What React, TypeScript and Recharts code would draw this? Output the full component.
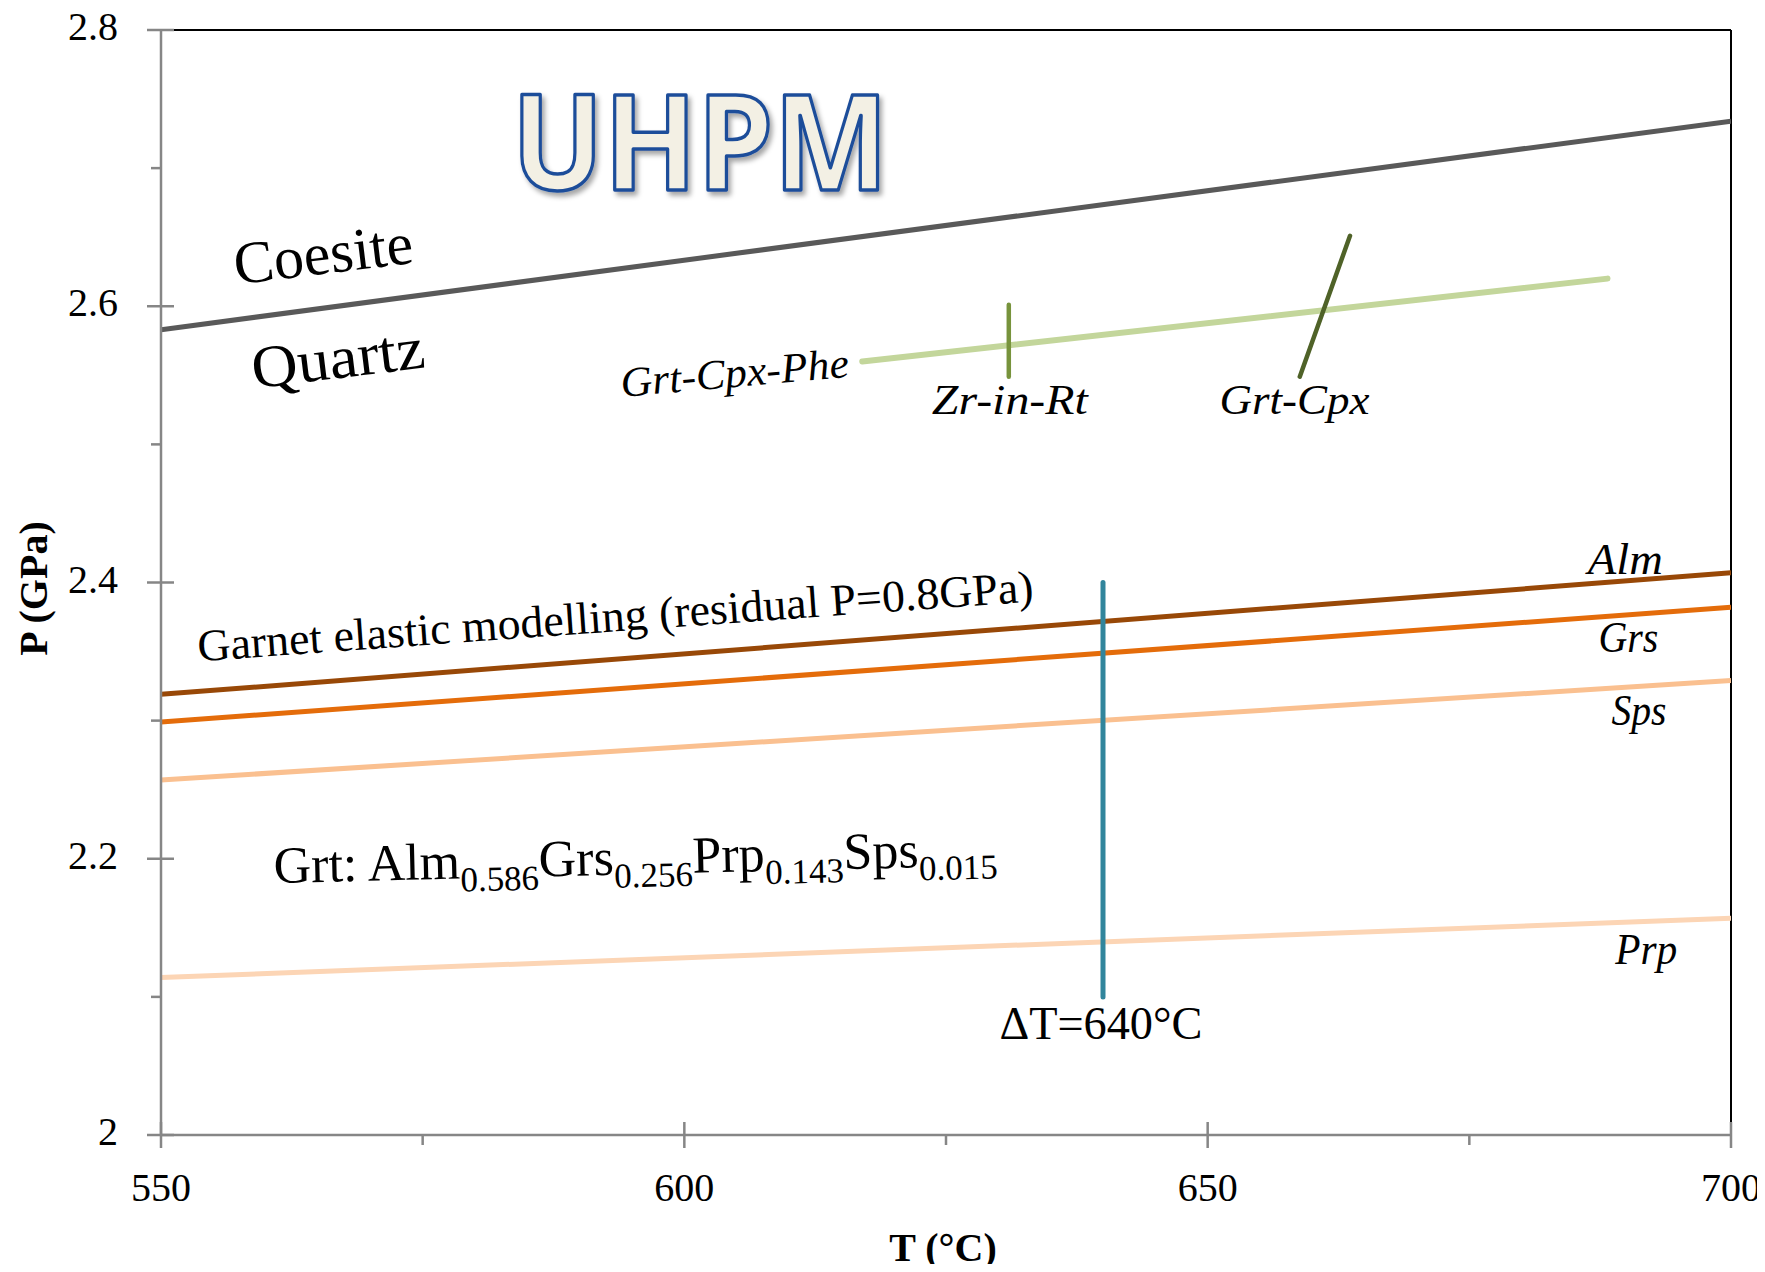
import React from 'react';
import { LineChart, Line, XAxis, YAxis, ReferenceLine, ReferenceDot } from 'recharts';

// ---- data (T in °C, P in GPa) ----
const coesiteQuartz = [{ t: 550, p: 2.583 }, { t: 700, p: 2.734 }];
const grtCpxPhe = [{ t: 617, p: 2.56 }, { t: 688.2, p: 2.62 }];
const zrInRt = [{ t: 631, p: 2.549 }, { t: 631, p: 2.601 }];
const grtCpx = [{ t: 658.8, p: 2.549 }, { t: 663.6, p: 2.651 }];
const alm = [{ t: 550, p: 2.319 }, { t: 700, p: 2.407 }];
const grs = [{ t: 550, p: 2.299 }, { t: 700, p: 2.382 }];
const sps = [{ t: 550, p: 2.257 }, { t: 700, p: 2.329 }];
const prp = [{ t: 550, p: 2.114 }, { t: 700, p: 2.157 }];
const deltaT = [{ t: 640, p: 2.1 }, { t: 640, p: 2.4 }];

const xTicks = [550, 575, 600, 625, 650, 675, 700];
const xMajorTicks = [550, 600, 650, 700];
const yTicks = [2, 2.1, 2.2, 2.3, 2.4, 2.5, 2.6, 2.7, 2.8];
const yMajorLabels: Record<string, string> = { '2': '2', '2.2': '2.2', '2.4': '2.4', '2.6': '2.6', '2.8': '2.8' };

const annotations = [
  { id: 'uhpm', text: 'UHPM', t: 601.5, p: 2.7211 },
  { id: 'coesite', text: 'Coesite', t: 565.5, p: 2.638 },
  { id: 'quartz', text: 'Quartz', t: 566.9, p: 2.5625 },
  { id: 'grtCpxPhe', text: 'Grt-Cpx-Phe', t: 604.8, p: 2.5517 },
  { id: 'zrInRt', text: 'Zr-in-Rt', t: 631.1, p: 2.532 },
  { id: 'grtCpx', text: 'Grt-Cpx', t: 658.3, p: 2.532 },
  { id: 'garnet', text: 'Garnet elastic modelling (residual P=0.8GPa)', t: 593.4, p: 2.3755 },
  { id: 'alm', text: 'Alm', t: 689.9, p: 2.4163 },
  { id: 'grs', text: 'Grs', t: 690.2, p: 2.3605 },
  { id: 'sps', text: 'Sps', t: 691.2, p: 2.307 },
  { id: 'prp', text: 'Prp', t: 691.9, p: 2.1345 },
  { id: 'deltaT', text: '\u0394T=640\u00b0C', t: 639.8, p: 2.081 },
];

const grtFormulaAnchor = { t: 560.8, p: 2.1824 };
const grtFormulaParts: [string, boolean][] = [
  ['Grt: Alm', false], ['0.586', true], ['Grs', false], ['0.256', true],
  ['Prp', false], ['0.143', true], ['Sps', false], ['0.015', true],
];

// ---- styles ----
const SERIF = "'Liberation Serif', 'Times New Roman', serif";
const AXIS_GRAY = '#868686';

type AStyle = { size: number; italic?: boolean; rotate?: number; len?: number; };
const annotationStyles: Record<string, AStyle> = {
  coesite: { size: 60, rotate: -7, len: 180 },
  quartz: { size: 60, rotate: -7, len: 174 },
  grtCpxPhe: { size: 42, italic: true, rotate: -5, len: 229 },
  zrInRt: { size: 42, italic: true, len: 156 },
  grtCpx: { size: 42, italic: true, len: 150 },
  garnet: { size: 45, rotate: -4.1, len: 838 },
  alm: { size: 44, italic: true, len: 75 },
  grs: { size: 44, italic: true, len: 60 },
  sps: { size: 44, italic: true, len: 55 },
  prp: { size: 44, italic: true, len: 62 },
  deltaT: { size: 46, len: 203 },
};

const getXY = (props: any) => {
  const vb = props.viewBox || {};
  const x = vb.x !== undefined ? vb.x + (vb.width || 0) / 2 : props.x;
  const y = vb.y !== undefined ? vb.y + (vb.height || 0) / 2 : props.y;
  return { x, y };
};

const makeAnnotation = (a: { id: string; text: string }) => (props: any) => {
  const { x, y } = getXY(props);
  if (a.id === 'uhpm') {
    return (
      <g>
        <defs>
          <filter id="uhpmShadow" x="-10%" y="-20%" width="130%" height="150%">
            <feDropShadow dx="3" dy="4" stdDeviation="2.5" floodColor="#000" floodOpacity="0.35" />
          </filter>
        </defs>
        <text
          x={x}
          y={y}
          textAnchor="middle"
          dominantBaseline="central"
          fontFamily="'Open Sans', 'Noto Sans', sans-serif"
          fontWeight={700}
          fontSize={132}
          textLength={377}
          lengthAdjust="spacingAndGlyphs"
          fill="#F3F0E4"
          stroke="#1F4E9A"
          strokeWidth={3.5}
          strokeLinejoin="round"
          filter="url(#uhpmShadow)"
        >
          {a.text}
        </text>
      </g>
    );
  }
  const s = annotationStyles[a.id];
  return (
    <text
      x={x}
      y={y}
      textAnchor="middle"
      dominantBaseline="central"
      fontFamily={SERIF}
      fontStyle={s.italic ? 'italic' : 'normal'}
      fontSize={s.size}
      fill="#000"
      textLength={s.len}
      lengthAdjust="spacingAndGlyphs"
      transform={s.rotate ? `rotate(${s.rotate} ${x} ${y})` : undefined}
    >
      {a.text}
    </text>
  );
};

const formulaLabel = (props: any) => {
  const { x, y } = getXY(props);
  const shift = 13;
  let prevSub = false;
  return (
    <text
      x={x}
      y={y}
      textAnchor="start"
      fontFamily={SERIF}
      fill="#000"
      transform={`rotate(-1.4 ${x} ${y})`}
    >
      {grtFormulaParts.map(([txt, sub], i) => {
        let dy = 0;
        if (sub && !prevSub) dy = shift;
        if (!sub && prevSub) dy = -shift;
        prevSub = sub;
        return (
          <tspan key={i} dy={dy} fontSize={sub ? 35 : 52}>
            {txt}
          </tspan>
        );
      })}
    </text>
  );
};

const YTick = (props: any) => {
  const { x, y, payload } = props;
  const v = payload.value;
  const key = String(Math.round(v * 10) / 10);
  const major = key in yMajorLabels;
  return (
    <g>
      <line
        x1={major ? x - 14 : x - 10}
        x2={major ? x + 13 : x}
        y1={y}
        y2={y}
        stroke={AXIS_GRAY}
        strokeWidth={2.5}
      />
      {major && (
        <text x={x - 43} y={y + 10} textAnchor="end" fontFamily={SERIF} fontSize={40} fill="#000">
          {yMajorLabels[key]}
        </text>
      )}
    </g>
  );
};

const XTick = (props: any) => {
  const { x, y, payload } = props;
  const v = payload.value;
  const major = xMajorTicks.includes(v);
  return (
    <g>
      <line
        x1={x}
        x2={x}
        y1={major ? y - 13 : y}
        y2={major ? y + 13 : y + 10}
        stroke={AXIS_GRAY}
        strokeWidth={2.5}
      />
      {major && (
        <text x={x} y={y + 66} textAnchor="middle" fontFamily={SERIF} fontSize={40} fill="#000">
          {v}
        </text>
      )}
    </g>
  );
};

const XTitle = (props: any) => {
  const vb = props.viewBox || {};
  const cx = vb.x + vb.width / 2 - 3;
  const by = vb.y + 126;
  return (
    <text x={cx} y={by} textAnchor="middle" fontFamily={SERIF} fontWeight={700} fontSize={40} fill="#000">
      T (°C)
    </text>
  );
};

const YTitle = (props: any) => {
  const vb = props.viewBox || {};
  const plotLeft = vb.x + vb.width;
  const x = plotLeft - 128;
  const y = vb.y + vb.height / 2 + 6;
  return (
    <text
      x={x}
      y={y}
      textAnchor="middle"
      dominantBaseline="central"
      fontFamily={SERIF}
      fontWeight={700}
      fontSize={40}
      fill="#000"
      transform={`rotate(-90 ${x} ${y})`}
    >
      P (GPa)
    </text>
  );
};

const series = [
  { key: 'coesite', data: coesiteQuartz, color: '#595959', width: 5, cap: 'butt' },
  { key: 'grtCpxPhe', data: grtCpxPhe, color: '#C3D69B', width: 6, cap: 'round' },
  { key: 'zrInRt', data: zrInRt, color: '#77933C', width: 4.5, cap: 'round' },
  { key: 'grtCpx', data: grtCpx, color: '#4F6228', width: 4.5, cap: 'round' },
  { key: 'alm', data: alm, color: '#984807', width: 5, cap: 'butt' },
  { key: 'grs', data: grs, color: '#E46C0A', width: 5, cap: 'butt' },
  { key: 'sps', data: sps, color: '#FAC090', width: 5, cap: 'butt' },
  { key: 'prp', data: prp, color: '#FCD5B5', width: 5, cap: 'butt' },
  { key: 'deltaT', data: deltaT, color: '#31859C', width: 5, cap: 'round' },
];

export default function App() {
  return (
    <div style={{ width: 1765, height: 1272, margin: -8 }}>
      <LineChart width={1765} height={1272} margin={{ top: 30, right: 34, bottom: 77, left: 61 }}>
        <XAxis
          type="number"
          dataKey="t"
          domain={[550, 700]}
          ticks={xTicks}
          interval={0}
          allowDataOverflow
          height={60}
          tickSize={0}
          tickMargin={0}
          tickLine={false}
          axisLine={{ stroke: AXIS_GRAY, strokeWidth: 2.5 }}
          tick={<XTick />}
          label={{ content: XTitle }}
        />
        <YAxis
          type="number"
          domain={[2, 2.8]}
          ticks={yTicks}
          interval={0}
          allowDataOverflow
          width={100}
          tickSize={0}
          tickMargin={0}
          tickLine={false}
          axisLine={{ stroke: AXIS_GRAY, strokeWidth: 2.5 }}
          tick={<YTick />}
          label={{ content: YTitle }}
        />
        <ReferenceLine y={2.8} stroke="#000" strokeWidth={2} />
        <ReferenceLine x={700} stroke="#000" strokeWidth={2} />
        {series.map((s) => (
          <Line
            key={s.key}
            data={s.data}
            dataKey="p"
            type="linear"
            stroke={s.color}
            strokeWidth={s.width}
            strokeLinecap={s.cap as any}
            dot={false}
            activeDot={false}
            isAnimationActive={false}
            legendType="none"
          />
        ))}
        {annotations.map((a) => (
          <ReferenceDot
            key={a.id}
            x={a.t}
            y={a.p}
            r={0}
            fill="none"
            stroke="none"
            label={makeAnnotation(a)}
          />
        ))}
        <ReferenceDot
          x={grtFormulaAnchor.t}
          y={grtFormulaAnchor.p}
          r={0}
          fill="none"
          stroke="none"
          label={formulaLabel}
        />
      </LineChart>
    </div>
  );
}
